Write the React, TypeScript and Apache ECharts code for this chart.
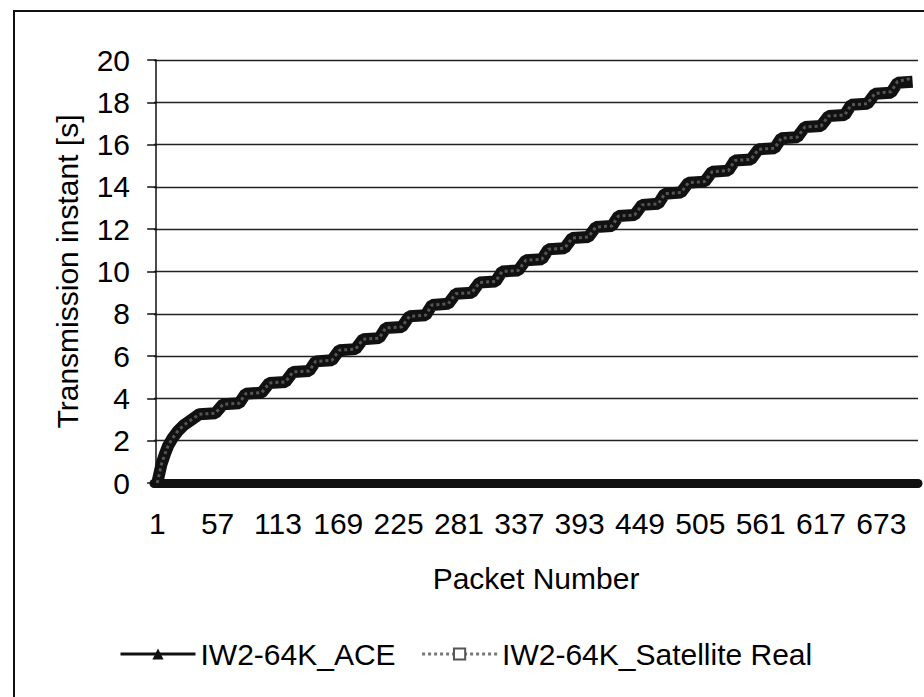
import React, { useEffect, useRef } from "react";
import * as echarts from "echarts";

// Packet numbers at the corners of the staircase
const acePackets = [
  1, 3, 5, 8, 11, 15, 20, 26, 33,
  40, 55, 62, 77, 83, 98, 105, 120, 127, 142, 148, 163, 170, 185, 192, 207,
  213, 228, 235, 250, 256, 271, 278, 293, 300, 315, 321, 336, 343, 358,
  364, 379, 386, 401, 408, 423, 429, 444, 451, 466, 472, 487, 494, 509,
  516, 531, 537, 552, 559, 574, 580, 595, 602, 617, 624, 639, 645, 660,
  667, 682, 688, 702,
];
// Transmission instants [s] of IW2-64K_ACE at those packets
const aceTimes = [
  0.0, 0.45, 0.9, 1.35, 1.75, 2.1, 2.45, 2.75, 3.0,
  3.25, 3.3, 3.72, 3.77, 4.22, 4.27, 4.73, 4.78, 5.25, 5.3, 5.75, 5.8, 6.28, 6.33, 6.8, 6.85,
  7.33, 7.38, 7.88, 7.93, 8.42, 8.47, 8.95, 9.0, 9.48, 9.53, 10.0, 10.05, 10.53, 10.58,
  11.05, 11.1, 11.58, 11.63, 12.1, 12.15, 12.62, 12.67, 13.15, 13.2, 13.68, 13.73, 14.2, 14.25,
  14.72, 14.77, 15.25, 15.3, 15.78, 15.83, 16.3, 16.35, 16.83, 16.88, 17.35, 17.4, 17.88, 17.93,
  18.4, 18.45, 18.92, 18.97,
];
// Transmission instants [s] of IW2-64K_Satellite Real at the same packets
const satTimes = [
  0.0, 0.45, 0.9, 1.35, 1.75, 2.1, 2.45, 2.75, 3.0,
  3.25, 3.3, 3.72, 3.77, 4.22, 4.27, 4.73, 4.78, 5.25, 5.3, 5.75, 5.8, 6.28, 6.33, 6.8, 6.85,
  7.33, 7.38, 7.88, 7.93, 8.42, 8.47, 8.95, 9.0, 9.48, 9.53, 10.0, 10.05, 10.53, 10.58,
  11.05, 11.1, 11.58, 11.63, 12.1, 12.15, 12.62, 12.67, 13.15, 13.2, 13.68, 13.73, 14.2, 14.25,
  14.72, 14.77, 15.25, 15.3, 15.78, 15.83, 16.3, 16.35, 16.83, 16.88, 17.35, 17.4, 17.88, 17.93,
  18.42, 18.5, 18.98, 19.15,
];
const xTickValues = [1, 57, 113, 169, 225, 281, 337, 393, 449, 505, 561, 617, 673];
const seriesNames = ["IW2-64K_ACE", "IW2-64K_Satellite Real"];

const FONT = "'Liberation Sans', Arial, Helvetica, sans-serif";
const FS = 30;

export default function App() {
  const ref = useRef<HTMLDivElement>(null);
  useEffect(() => {
    document.body.style.margin = "0";
    const chart = echarts.init(ref.current!, null, { renderer: "svg" });
    const ace = acePackets.map((p, i) => [p, aceTimes[i]]);
    const sat = acePackets.map((p, i) => [p, satTimes[i]]);
    chart.setOption({
      animation: false,
      backgroundColor: "#fff",
      textStyle: { fontFamily: FONT },
      graphic: [
        {
          type: "rect",
          shape: { x: 14, y: 11, width: 960, height: 760 },
          style: { fill: "none", stroke: "#111", lineWidth: 2 },
          silent: true,
          z: 100,
        },
      ],
      grid: { left: 154, right: 6, top: 60, bottom: 214 },
      xAxis: {
        type: "value",
        min: -2,
        max: 707,
        name: "Packet Number",
        nameLocation: "middle",
        nameGap: 80,
        nameTextStyle: { fontSize: FS, color: "#000", fontFamily: FONT },
        axisLine: { show: true, lineStyle: { color: "#111", width: 9 } },
        axisTick: { show: false },
        splitLine: { show: false },
        axisLabel: {
          customValues: xTickValues,
          fontSize: FS,
          color: "#000",
          margin: 25,
          fontFamily: FONT,
        },
      },
      yAxis: {
        type: "value",
        min: 0,
        max: 20,
        interval: 2,
        name: "Transmission instant [s]",
        nameLocation: "middle",
        nameGap: 72,
        nameTextStyle: { fontSize: FS, color: "#000", fontFamily: FONT },
        axisLine: { show: true, lineStyle: { color: "#111", width: 1.5 } },
        axisTick: { show: true, length: 9, lineStyle: { color: "#111", width: 1.5 } },
        splitLine: { show: true, lineStyle: { color: "#222", width: 1.3 } },
        axisLabel: { fontSize: FS, color: "#000", margin: 24, fontFamily: FONT },
      },
      legend: {
        left: 114,
        top: 634,
        itemWidth: 75,
        itemHeight: 14,
        itemGap: 25,
        textStyle: { fontSize: FS, color: "#000", fontFamily: FONT },
        data: [
          { name: seriesNames[0], lineStyle: { width: 3, color: "#111" } },
          { name: seriesNames[1], lineStyle: { width: 3, color: "#777", type: "dotted" } },
        ],
      },
      series: [
        {
          name: seriesNames[0],
          type: "line",
          data: ace,
          symbol: "triangle",
          symbolSize: 12,
          showSymbol: false,
          itemStyle: { color: "#111" },
          lineStyle: { color: "#111", width: 12 },
        },
        {
          name: seriesNames[1],
          type: "line",
          data: sat,
          symbol: "rect",
          symbolSize: 9,
          showSymbol: false,
          itemStyle: { color: "#fff", borderColor: "#555", borderWidth: 2 },
          lineStyle: { color: "#555", width: 3, type: "dotted" },
        },
      ],
    });
    return () => chart.dispose();
  }, []);
  return <div ref={ref} style={{ width: 924, height: 697, background: "#fff" }} />;
}
